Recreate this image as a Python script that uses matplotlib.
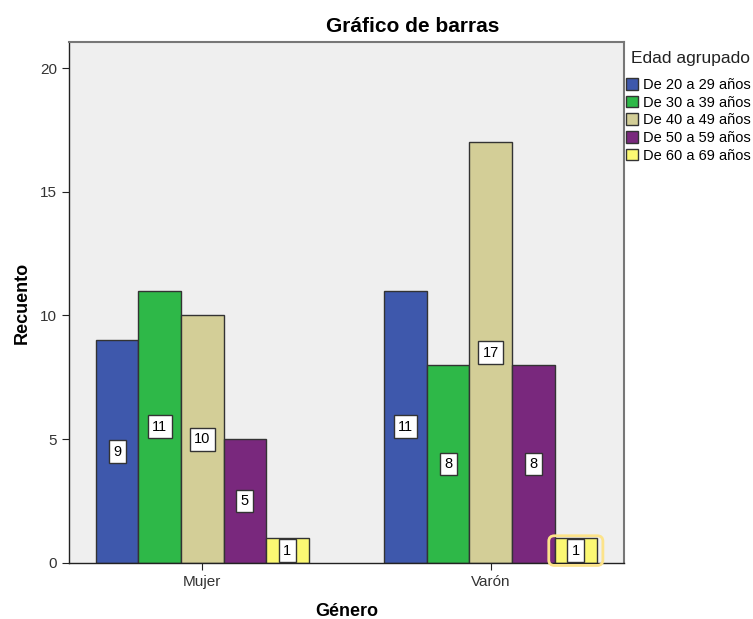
import numpy as np
import matplotlib.pyplot as plt
from matplotlib.patches import FancyBboxPatch

plt.rcParams['font.family'] = ['Liberation Sans', 'DejaVu Sans']

# counts per gender and age group
generos = ["Mujer", "Varón"]
grupos = ["De 20 a 29 años", "De 30 a 39 años", "De 40 a 49 años",
          "De 50 a 59 años", "De 60 a 69 años"]
mujer = [9, 11, 10, 5, 1]
varon = [11, 8, 17, 8, 1]
colores = ["#3E58AC", "#2EB848", "#D3CE97", "#79287D", "#FBF873"]

valores = np.array([mujer, varon])

fig = plt.figure(figsize=(7.53, 6.19), dpi=100)
ax = fig.add_axes([0.0916, 0.0905, 0.737, 0.8416])
ax.set_facecolor("#EFEFEF")

w = 0.1476
x = np.arange(len(generos))
for i, (grupo, col) in enumerate(zip(grupos, colores)):
    pos = x + (i - 2) * w
    bars = ax.bar(pos, valores[:, i], width=w, color=col,
                  edgecolor="#333333", linewidth=1, label=grupo, zorder=2)
    for b, v in zip(bars, valores[:, i]):
        ax.text(b.get_x() + w / 2, v / 2, str(v), ha="center", va="center",
                fontsize=10.5, zorder=4,
                bbox=dict(boxstyle="square,pad=0.3", fc="white",
                          ec="#333333", lw=1))

# highlight around the selected bar
sel = ax.patches[-1]
hl = FancyBboxPatch((sel.get_x() - 0.02, -0.1), w + 0.04, 1.0 + 0.2,
                    boxstyle="round,pad=0,rounding_size=0.02",
                    fill=False, ec="#FCE38A", lw=2, zorder=3, clip_on=False,
                    mutation_aspect=11)
ax.add_patch(hl)

ax.set_xlim(-0.462, 1.462)
ax.set_ylim(0, 21.05)
ax.set_yticks([0, 5, 10, 15, 20])
ax.set_xticks(x)
ax.set_xticklabels(generos)
ax.tick_params(axis="both", labelsize=11, length=5, color="#222222",
               labelcolor="#333333")

for s in ["top", "right"]:
    ax.spines[s].set_color("#777777")
    ax.spines[s].set_linewidth(1.5)
for s in ["left", "bottom"]:
    ax.spines[s].set_color("#222222")
    ax.spines[s].set_linewidth(1)

ax.set_ylabel("Recuento", fontsize=13, fontweight="bold", labelpad=7)
ax.set_xlabel("Género", fontsize=13, fontweight="bold", labelpad=10)
fig.text(0.5484, 0.9564, "Gráfico de barras", ha="center", va="center",
         fontsize=15, fontweight="bold")

fig.text(0.838, 0.905, "Edad agrupado", ha="left", va="center",
         fontsize=12.5, color="#222222")
leg = ax.legend(loc="upper left", bbox_to_anchor=(0.831, 0.874),
                bbox_transform=fig.transFigure, frameon=False,
                fontsize=10.5, handlelength=0.85, handleheight=0.85,
                handletextpad=0.3, labelspacing=0.25,
                borderaxespad=0, borderpad=0)

fig.savefig("out.png", dpi=100)
